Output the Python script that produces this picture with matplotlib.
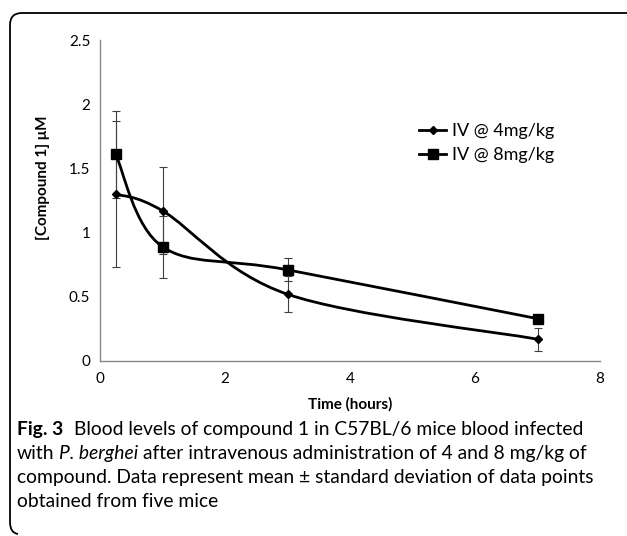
import numpy as np
import matplotlib
matplotlib.use("Agg")
import matplotlib.pyplot as plt
from matplotlib.path import Path
from matplotlib.patches import PathPatch
from matplotlib.lines import Line2D

# data
time_h = [0.25, 1, 3, 7]
conc_4mg = [1.30, 1.17, 0.52, 0.17]
err_4mg = [0.57, 0.34, 0.14, 0.09]
conc_8mg = [1.61, 0.89, 0.71, 0.33]
err_8mg = [0.34, 0.24, 0.09, 0.0]
labels = ["IV @ 4mg/kg", "IV @ 8mg/kg"]
xticks = [0, 2, 4, 6, 8]
yticks = [0, 0.5, 1, 1.5, 2, 2.5]
ytick_labels = ["0", "0.5", "1", "1.5", "2", "2.5"]

plt.rcParams['font.family'] = ['Lato', 'DejaVu Sans']

W, H = 627, 536
fig = plt.figure(figsize=(W / 100, H / 100), dpi=100)
ax = fig.add_axes([100 / W, 1 - 361 / H, 500 / W, 321 / H])


def smooth_path(x, y):
    # Excel style smoothed line: catmull-rom turned into cubic beziers
    p = np.column_stack([x, y])
    pts = np.vstack([p[0], p, p[-1]])
    verts = [p[0]]
    codes = [Path.MOVETO]
    for i in range(1, len(pts) - 2):
        c1 = pts[i] + (pts[i + 1] - pts[i - 1]) / 6
        c2 = pts[i + 1] - (pts[i + 2] - pts[i]) / 6
        verts += [c1, c2, pts[i + 1]]
        codes += [Path.CURVE4] * 3
    return Path(verts, codes)


for yv in (conc_4mg, conc_8mg):
    ax.add_patch(PathPatch(smooth_path(time_h, yv), facecolor='none',
                           edgecolor='black', lw=2, zorder=3))

ax.errorbar(time_h, conc_4mg, yerr=err_4mg, fmt='none', ecolor='#404040',
            elinewidth=0.8, capsize=3, capthick=0.8, zorder=2)
ax.errorbar(time_h, conc_8mg, yerr=err_8mg, fmt='none', ecolor='#404040',
            elinewidth=0.8, capsize=3, capthick=0.8, zorder=2)
ax.plot(time_h, conc_4mg, ls='none', marker='D', ms=4.5, color='black', zorder=4)
ax.plot(time_h, conc_8mg, ls='none', marker='s', ms=7, color='black', zorder=4)

ax.set_xlim(0, 8)
ax.set_ylim(0, 2.5)
ax.set_xticks(xticks)
ax.set_yticks(yticks)
ax.set_yticklabels(ytick_labels)
ax.tick_params(length=0, labelsize=11, colors='black')
ax.tick_params(axis='y', pad=7)
ax.tick_params(axis='x', pad=8)
for s in ('top', 'right'):
    ax.spines[s].set_visible(False)
for s in ('left', 'bottom'):
    ax.spines[s].set_color('#868686')
    ax.spines[s].set_linewidth(1)

ax.set_xlabel("Time (hours)", fontsize=11, fontweight='bold', labelpad=8)
ax.set_ylabel("[Compound 1] μM", fontsize=11, fontweight='bold')
ax.yaxis.set_label_coords(-0.1, 0.57)

handles = [
    Line2D([], [], color='black', lw=2, marker='D', ms=4.5),
    Line2D([], [], color='black', lw=2, marker='s', ms=7),
]
fig.legend(handles, labels, loc='upper left', bbox_to_anchor=(412 / W, 1 - 116 / H),
           frameon=False, fontsize=13, handlelength=1.5, handletextpad=0.3,
           labelspacing=0.45, borderaxespad=0)

# rounded border, open on the right and bottom
def px(x, y):
    return (x / 100, (H - y) / 100)

border = Path([px(627, 13), px(22, 13), px(10, 13), px(10, 25),
               px(10, 522), px(10, 533), px(18, 534)],
              [Path.MOVETO, Path.LINETO, Path.CURVE3, Path.CURVE3,
               Path.LINETO, Path.CURVE3, Path.CURVE3])
fig.add_artist(PathPatch(border, facecolor='none', edgecolor='black', lw=1.3,
                         transform=fig.dpi_scale_trans))

# caption
cap_size = 13.9
def after(prev, text, gap=3.2, **kw):
    return ax.annotate(text, xy=(1, 0), xycoords=prev, xytext=(gap, 0),
                       textcoords='offset points', fontsize=cap_size,
                       va='bottom', ha='left', annotation_clip=False, **kw)

t = fig.text(17 / W, 1 - 438 / H, "Fig. 3", fontsize=cap_size, fontweight='bold',
             va='bottom')
after(t, "Blood levels of compound 1 in C57BL/6 mice blood infected", gap=8)
t = fig.text(17 / W, 1 - 462 / H, "with", fontsize=cap_size, va='bottom')
t = after(t, "P. berghei", style='italic')
after(t, "after intravenous administration of 4 and 8 mg/kg of")
fig.text(17 / W, 1 - 486 / H,
         "compound. Data represent mean ± standard deviation of data points",
         fontsize=cap_size, va='bottom')
fig.text(17 / W, 1 - 510 / H, "obtained from five mice", fontsize=cap_size,
         va='bottom')

fig.savefig("out.png", dpi=100)
